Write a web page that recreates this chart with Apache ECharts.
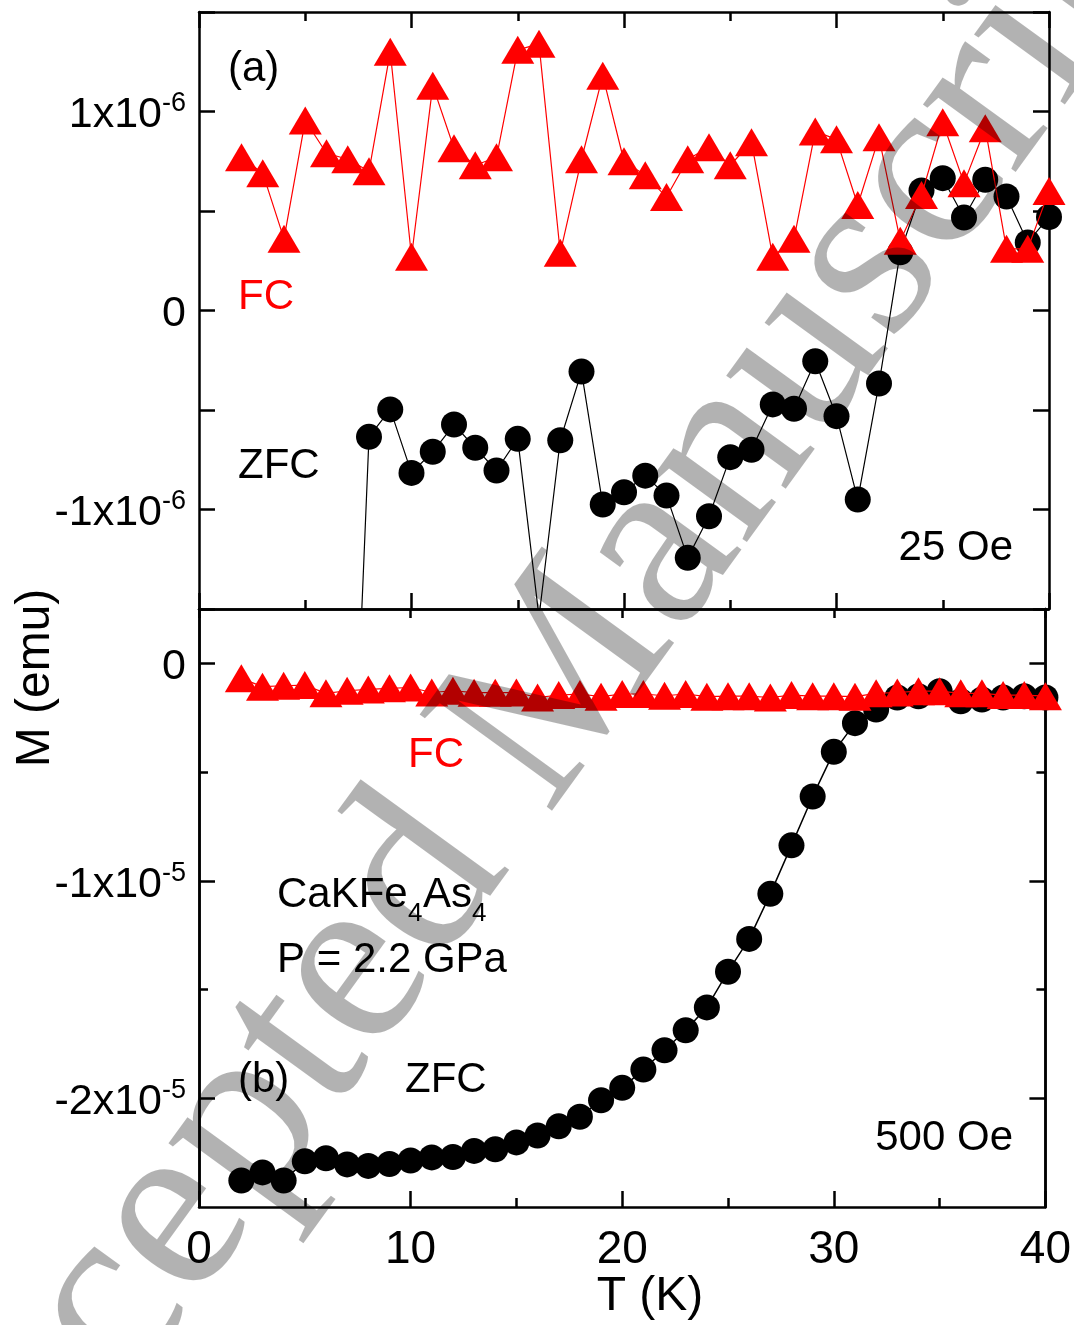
<!DOCTYPE html>
<html>
<head>
<meta charset="utf-8">
<title>CaKFe4As4 M(T)</title>
<script src="https://cdn.jsdelivr.net/npm/echarts@6/dist/echarts.min.js"></script>
<style>
  html, body { margin: 0; padding: 0; background: #fff; }
  #chart { width: 1074px; height: 1325px; }
</style>
</head>
<body>
<div id="chart"></div>
<script>
var FONT = '"Liberation Sans", Arial, sans-serif';

// temperatures, K
var temps = [2, 3, 4, 5, 6, 7, 8, 9, 10, 11, 12, 13, 14, 15, 16, 17, 18, 19, 20,
  21, 22, 23, 24, 25, 26, 27, 28, 29, 30, 31, 32, 33, 34, 35, 36, 37, 38, 39, 40];

// panel (a), 25 Oe, in units of 1e-6 emu
var fcTop = [0.77, 0.69, 0.36, 0.955, 0.79, 0.76, 0.70, 1.30, 0.27, 1.13, 0.815, 0.73, 0.77,
  1.31, 1.34, 0.29, 0.76, 1.18, 0.75, 0.68, 0.57, 0.76, 0.82, 0.73, 0.846, 0.27, 0.36,
  0.90, 0.86, 0.53, 0.87, 0.35, 0.58, 0.946, 0.64, 0.916, 0.31, 0.31, 0.60];
// below 7 K the ZFC data is off scale
var zfcTop = [null, null, null, null, null, -3.2, -0.635, -0.497, -0.816, -0.71, -0.573, -0.69,
  -0.804, -0.645, -1.54, -0.652, -0.307, -0.975, -0.913, -0.83, -0.93, -1.243, -1.034,
  -0.737, -0.70, -0.472, -0.494, -0.255, -0.531, -0.95, -0.367, 0.293, 0.603, 0.665,
  0.467, 0.657, 0.573, 0.342, 0.47];

// panel (b), 500 Oe, in units of 1e-5 emu
var fcBottom = [-0.069, -0.107, -0.103, -0.100, -0.138, -0.126, -0.120, -0.115, -0.111,
  -0.134, -0.126, -0.135, -0.135, -0.134, -0.157, -0.146, -0.141, -0.153, -0.141,
  -0.141, -0.149, -0.141, -0.153, -0.151, -0.151, -0.157, -0.146, -0.151, -0.151,
  -0.153, -0.138, -0.134, -0.128, -0.128, -0.138, -0.138, -0.146, -0.146, -0.151];
var zfcBottom = [-2.378, -2.341, -2.378, -2.290, -2.276, -2.304, -2.311, -2.302, -2.286,
  -2.272, -2.270, -2.242, -2.235, -2.203, -2.171, -2.129, -2.085, -2.009, -1.952,
  -1.868, -1.779, -1.687, -1.582, -1.418, -1.267, -1.060, -0.837, -0.612, -0.407,
  -0.275, -0.212, -0.157, -0.151, -0.128, -0.174, -0.166, -0.157, -0.151, -0.157];

// tick labels
var topLabelValues = [-1, 0, 1];
var bottomLabelValues = [-2, -1, 0];
var bottomMinorValues = [-1.5, -0.5];

function pair(ys) {
  return temps.map(function (t, i) { return [t, ys[i]]; });
}

function sciLabel(exp) {
  return function (v) {
    if (v === 0) return '{n|0}';
    return '{n|' + (v < 0 ? '-' : '') + Math.abs(v) + 'x10}{sup|' + exp + '}';
  };
}

var labelRich = {
  n: { fontSize: 43, fontFamily: FONT, color: '#000', lineHeight: 50 },
  sup: { fontSize: 27, fontFamily: FONT, color: '#000', lineHeight: 27, verticalAlign: 'top' }
};

var axisLine = { onZero: false, lineStyle: { color: '#000', width: 2.5 } };

function xAxisOf(grid, pos, opts) {
  var ax = {
    type: 'value', gridIndex: grid, position: pos, min: 0, max: 40, interval: 10,
    axisLine: axisLine,
    axisTick: { inside: true, length: 16, lineStyle: { color: '#000', width: 2.5 } },
    minorTick: { show: true, splitNumber: 2, length: 9, lineStyle: { color: '#000', width: 2.5 } },
    axisLabel: { show: false },
    splitLine: { show: false }
  };
  return Object.assign(ax, opts || {});
}

function yAxisOf(grid, pos, opts) {
  var ax = {
    type: 'value', gridIndex: grid, position: pos,
    axisLine: axisLine,
    axisTick: { inside: true, length: 16, lineStyle: { color: '#000', width: 2.5 } },
    axisLabel: { show: false },
    splitLine: { show: false }
  };
  return Object.assign(ax, opts || {});
}

function txt(text, x, y, extra) {
  var style = Object.assign({
    text: text, x: 0, y: 0, fill: '#000',
    font: '42px ' + FONT, align: 'left', verticalAlign: 'middle'
  }, extra || {});
  return { type: 'text', x: x, y: y, z: 50, silent: true, style: style };
}

var chart = echarts.init(document.getElementById('chart'), null, { renderer: 'canvas' });

var option = {
  animation: false,
  backgroundColor: '#fff',
  grid: [
    { left: 199, top: 12, width: 850, height: 597, containLabel: false },
    { left: 199, top: 609, width: 850, height: 598, containLabel: false }
  ],
  xAxis: [
    xAxisOf(0, 'bottom'),
    xAxisOf(0, 'top'),
    xAxisOf(1, 'bottom', {
      axisLabel: { show: true, margin: 20, fontSize: 46, fontFamily: FONT, color: '#000' }
    }),
    xAxisOf(1, 'top', {
      axisTick: { inside: true, length: 9, lineStyle: { color: '#000', width: 2.5 } },
      minorTick: { show: false }
    })
  ],
  yAxis: [
    yAxisOf(0, 'left', {
      min: -1.5, max: 1.5, interval: 0.5,
      axisLabel: { show: true, margin: 13, padding: [8, 0, 0, 0], customValues: topLabelValues,
        formatter: sciLabel('-6'), rich: labelRich }
    }),
    yAxisOf(0, 'right', { min: -1.5, max: 1.5, interval: 0.5 }),
    yAxisOf(1, 'left', {
      min: -2.5, max: 0.25,
      axisTick: { inside: true, length: 16, customValues: bottomLabelValues,
        lineStyle: { color: '#000', width: 2.5 } },
      axisLabel: { show: true, margin: 13, padding: [8, 0, 0, 0], customValues: bottomLabelValues,
        formatter: sciLabel('-5'), rich: labelRich }
    }),
    yAxisOf(1, 'left', {
      min: -2.5, max: 0.25,
      axisTick: { inside: true, length: 9, customValues: bottomMinorValues,
        lineStyle: { color: '#000', width: 2.5 } },
      axisLabel: { show: false, customValues: bottomMinorValues }
    }),
    yAxisOf(1, 'right', {
      min: -2.5, max: 0.25,
      axisTick: { inside: true, length: 16, customValues: bottomLabelValues,
        lineStyle: { color: '#000', width: 2.5 } },
      axisLabel: { show: false, customValues: bottomLabelValues }
    }),
    yAxisOf(1, 'right', {
      min: -2.5, max: 0.25,
      axisTick: { inside: true, length: 9, customValues: bottomMinorValues,
        lineStyle: { color: '#000', width: 2.5 } },
      axisLabel: { show: false, customValues: bottomMinorValues }
    })
  ],
  series: [
    {
      name: 'ZFC 25 Oe', type: 'line', xAxisIndex: 0, yAxisIndex: 0, data: pair(zfcTop),
      symbol: 'circle', symbolSize: 26, showAllSymbol: true, z: 2,
      itemStyle: { color: '#000' }, lineStyle: { color: '#000', width: 1.2 }
    },
    {
      name: 'FC 25 Oe', type: 'line', xAxisIndex: 0, yAxisIndex: 0, data: pair(fcTop),
      symbol: 'triangle', symbolSize: [33, 28], showAllSymbol: true, z: 3,
      itemStyle: { color: '#ff0000' }, lineStyle: { color: '#ff0000', width: 1.2 }
    },
    {
      name: 'ZFC 500 Oe', type: 'line', xAxisIndex: 2, yAxisIndex: 2, data: pair(zfcBottom),
      symbol: 'circle', symbolSize: 26, showAllSymbol: true, z: 2,
      itemStyle: { color: '#000' }, lineStyle: { color: '#000', width: 1.5 }
    },
    {
      name: 'FC 500 Oe', type: 'line', xAxisIndex: 2, yAxisIndex: 2, data: pair(fcBottom),
      symbol: 'triangle', symbolSize: [33, 28], showAllSymbol: true, z: 3,
      itemStyle: { color: '#ff0000' }, lineStyle: { color: '#ff0000', width: 1.2 }
    }
  ],
  graphic: [
    txt('(a)', 228, 69),
    txt('FC', 238, 297, { fill: '#ff0000' }),
    txt('ZFC', 238, 466),
    txt('25 Oe', 1013, 548, { align: 'right' }),
    txt('FC', 408, 755, { fill: '#ff0000' }),
    // CaKFe4As4 with subscripts
    txt('CaKFe', 277, 895),
    txt('4', 408, 914, { font: '26px ' + FONT }),
    txt('As', 423, 895),
    txt('4', 472, 914, { font: '26px ' + FONT }),
    txt('P = 2.2 GPa', 277, 960),
    txt('(b)', 238, 1080),
    txt('ZFC', 405, 1080),
    txt('500 Oe', 1013, 1138, { align: 'right' }),
    txt('T (K)', 650, 1297, { align: 'center', font: '48px ' + FONT }),
    {
      type: 'text', x: 36, y: 678, rotation: Math.PI / 2, z: 50, silent: true,
      style: { text: 'M (emu)', fill: '#000', font: '48px ' + FONT,
        align: 'center', verticalAlign: 'middle' }
    },
    // manuscript watermark over the whole figure
    {
      type: 'text', x: -97, y: 1592, rotation: 54 * Math.PI / 180, z: 100, silent: true,
      style: { text: 'Accepted Manuscript', fill: 'rgba(0,0,0,0.3)',
        font: '250px "Liberation Serif", "Times New Roman", serif',
        align: 'left', verticalAlign: 'middle' }
    }
  ]
};

chart.setOption(option);
</script>
</body>
</html>
